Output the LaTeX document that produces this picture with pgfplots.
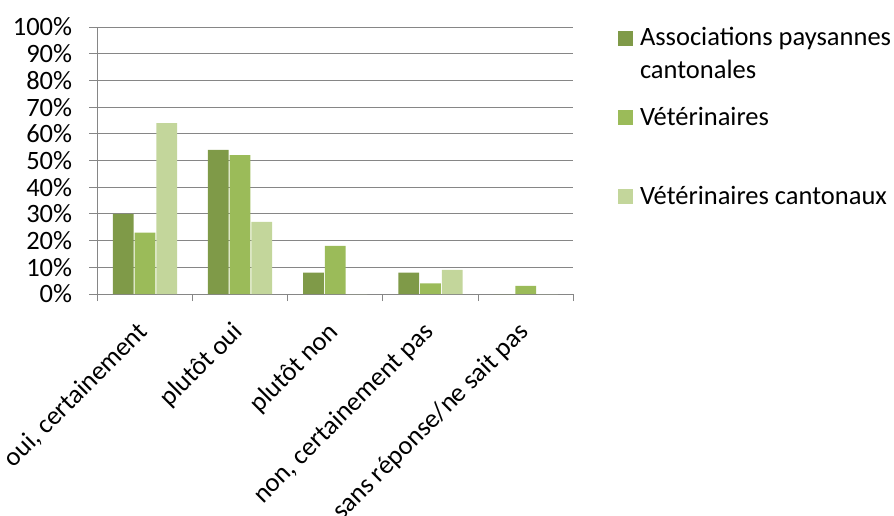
\documentclass[border=0pt]{standalone}
\usepackage{pgfplots}
\pgfplotsset{compat=1.18}
\usepackage{fontspec}
\setmainfont{Carlito}
\definecolor{cA}{HTML}{7F9A48}
\definecolor{cB}{HTML}{9BBB59}
\definecolor{cC}{HTML}{C3D69B}
\definecolor{gridc}{HTML}{868686}
\begin{document}
\fontsize{26.5}{33}\selectfont
\begin{tikzpicture}[font=\fontsize{26.5}{33}\selectfont]
\begin{axis}[
  at={(0pt,0pt)}, anchor=south west,
  scale only axis, width=476pt, height=267pt,
  xmin=-0.5, xmax=4.5, ymin=0, ymax=100,
  ybar=1pt, bar width=0.218,
  axis x line*=bottom, axis y line*=left,
  axis line style={draw=gridc, line width=0.9pt},
  ytick={0,10,...,100},
  /pgf/number format/assume math mode=true,
  yticklabel={\pgfmathprintnumber{\tick}\%},
  yticklabel style={anchor=east, inner sep=0pt, xshift=-17pt},
  ymajorgrids, grid style={draw=gridc, line width=0.9pt},
  tick align=outside, major tick length=8pt, minor tick length=7pt,
  tick style={draw=gridc, line width=0.9pt},
  xtick={0,1,2,3,4},
  xticklabels={{oui, certainement}, {plutôt oui}, {plutôt non}, {non, certainement pas}, {sans réponse/ne sait pas}},
  major x tick style={draw=none},
  minor xtick={-0.5,0.5,1.5,2.5,3.5,4.5},
  xticklabel style={xshift=-9pt, yshift=-18pt, rotate=45, anchor=north east, inner sep=0pt},
  legend style={at={(axis description cs:1.0939,1.0154)}, anchor=north west, draw=none, fill=none,
    inner sep=0pt, outer sep=0pt, row sep=52pt, column sep=7pt,
    nodes={inner sep=0pt}, cells={anchor=base west}},
]
\addplot[fill=cA, draw=none, legend image code/.code={\fill[cA] (0pt,0pt) rectangle (15pt,15pt);}] coordinates {(0,30) (1,54) (2,8) (3,8) (4,0)};
\addlegendentry{\begin{tabular}[t]{@{}l@{}}Associations paysannes\\cantonales\end{tabular}}
\addplot[fill=cB, draw=none, legend image code/.code={\fill[cB] (0pt,0pt) rectangle (15pt,15pt);}] coordinates {(0,23) (1,52) (2,18) (3,4) (4,3)};
\addlegendentry{\begin{tabular}[t]{@{}l@{}}Vétérinaires\end{tabular}}
\addplot[fill=cC, draw=none, legend image code/.code={\fill[cC] (0pt,0pt) rectangle (15pt,15pt);}] coordinates {(0,64) (1,27) (2,0) (3,9) (4,0)};
\addlegendentry{\begin{tabular}[t]{@{}l@{}}Vétérinaires cantonaux\end{tabular}}
\end{axis}
\pgfresetboundingbox
\useasboundingbox (-97.3pt,-221pt) rectangle (796.7pt,294pt);
\end{tikzpicture}
\end{document}
